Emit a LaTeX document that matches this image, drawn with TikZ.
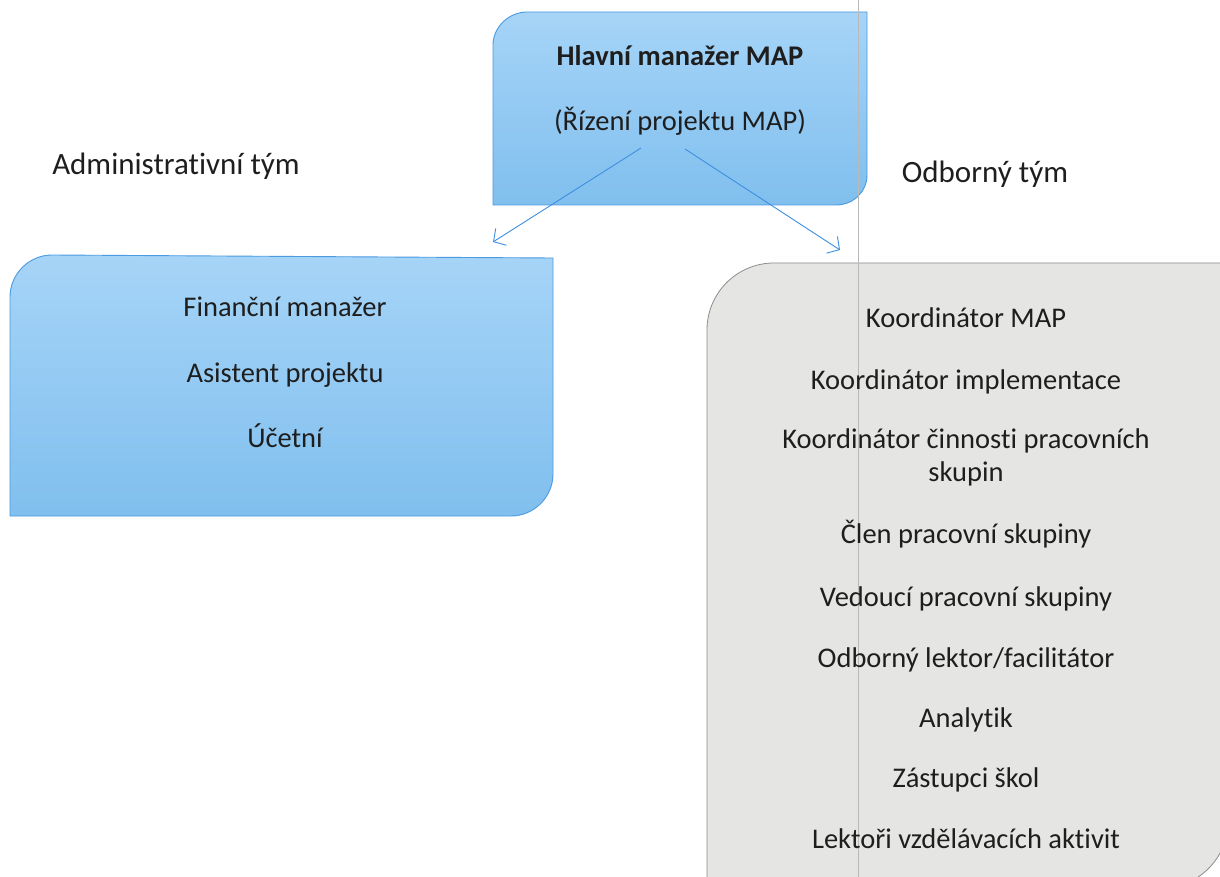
\documentclass[tikz,border=0pt]{standalone}
\usepackage{fontspec}
\setmainfont{Carlito}[Ligatures=NoCommon]
\usetikzlibrary{arrows.meta}
\definecolor{txt}{HTML}{1E1E1E}
\definecolor{bluetop}{HTML}{A6D4F7}
\definecolor{bluebot}{HTML}{80BFEE}
\definecolor{blueline}{HTML}{4A9BE0}
\definecolor{arrowc}{HTML}{3E8FE0}
\definecolor{grayfill}{HTML}{E5E5E4}
\definecolor{grayline}{HTML}{8C8C8C}
\tikzset{
  bluebox/.style={draw=blueline, line width=0.9pt, top color=bluetop, bottom color=bluebot},
  graybox/.style={draw=grayline, line width=0.8pt, fill=grayfill},
  lbl/.style={text=txt, font=\fontsize{28.5}{33}\selectfont, inner sep=0pt, anchor=base},
  head/.style={text=txt, font=\fontsize{31}{36}\selectfont, inner sep=0pt, anchor=base},
  conn/.style={draw=arrowc, line width=0.9pt, -{Straight Barb[length=9pt,width=20pt,line width=0.9pt]}},
}
\begin{document}
\begin{tikzpicture}[x=1pt,y=-1pt]
\useasboundingbox (0,0) rectangle (1220,877);
\clip (0,0) rectangle (1220,877);
\fill[white] (0,0) rectangle (1220,877);
% top box
\path[bluebox] (493,205) -- (493,45) .. controls (493,27) and (509,12) .. (527,12)
  -- (867,12) -- (867,175) .. controls (867,192) and (853,205) .. (836,205) -- cycle;
% left box
\path[bluebox] (10,516) -- (10,297) .. controls (10,274) and (29,255) .. (52,255)
  -- (553,258) -- (553,474) .. controls (553,497) and (534,516) .. (511,516) -- cycle;
% right box
\path[graybox] (707,900) -- (707,330) .. controls (707,293) and (737,263) .. (774,263)
  -- (1228,263) -- (1228,822) .. controls (1228,858) and (1198,888) .. (1162,888) -- (707,888);
% scan fold line
\draw[gray!55, line width=0.6pt] (858,0) -- (858,877);
% texts
\node[lbl, font=\fontsize{28.5}{33}\selectfont\bfseries] (t1) at (680,66) {Hlavní manažer MAP};
\node[lbl] (t2) at (680,131) {(Řízení projektu MAP)};
\node[head] (adm) at (176,175) {Administrativní tým};
\node[head] (odb) at (985,183) {Odborný tým};
\node[lbl] (l1) at (285,316) {Finanční manažer};
\node[lbl] (l2) at (285,382) {Asistent projektu};
\node[lbl] (l3) at (285,447) {Účetní};
\node[lbl] (r1) at (966,327) {Koordinátor MAP};
\node[lbl] (r2) at (966,389) {Koordinátor implementace};
\node[lbl] (r3) at (966,448) {Koordinátor činnosti pracovních};
\node[lbl] (r3b) at (966,481) {skupin};
\node[lbl] (r4) at (966,543) {Člen pracovní skupiny};
\node[lbl] (r5) at (966,606) {Vedoucí pracovní skupiny};
\node[lbl] (r6) at (966,667) {Odborný lektor/facilitátor};
\node[lbl] (r7) at (966,727) {Analytik};
\node[lbl] (r8) at (966,787) {Zástupci škol};
\node[lbl] (r9) at (966,848) {Lektoři vzdělávacích aktivit};
% connectors
\coordinate (s1) at (641,148);
\coordinate (s2) at (685,149);
\coordinate (e1) at (493,242);
\coordinate (e2) at (840,250);
\draw[conn] (s1) -- (e1);
\draw[conn] (s2) -- (e2);
\end{tikzpicture}
\end{document}
